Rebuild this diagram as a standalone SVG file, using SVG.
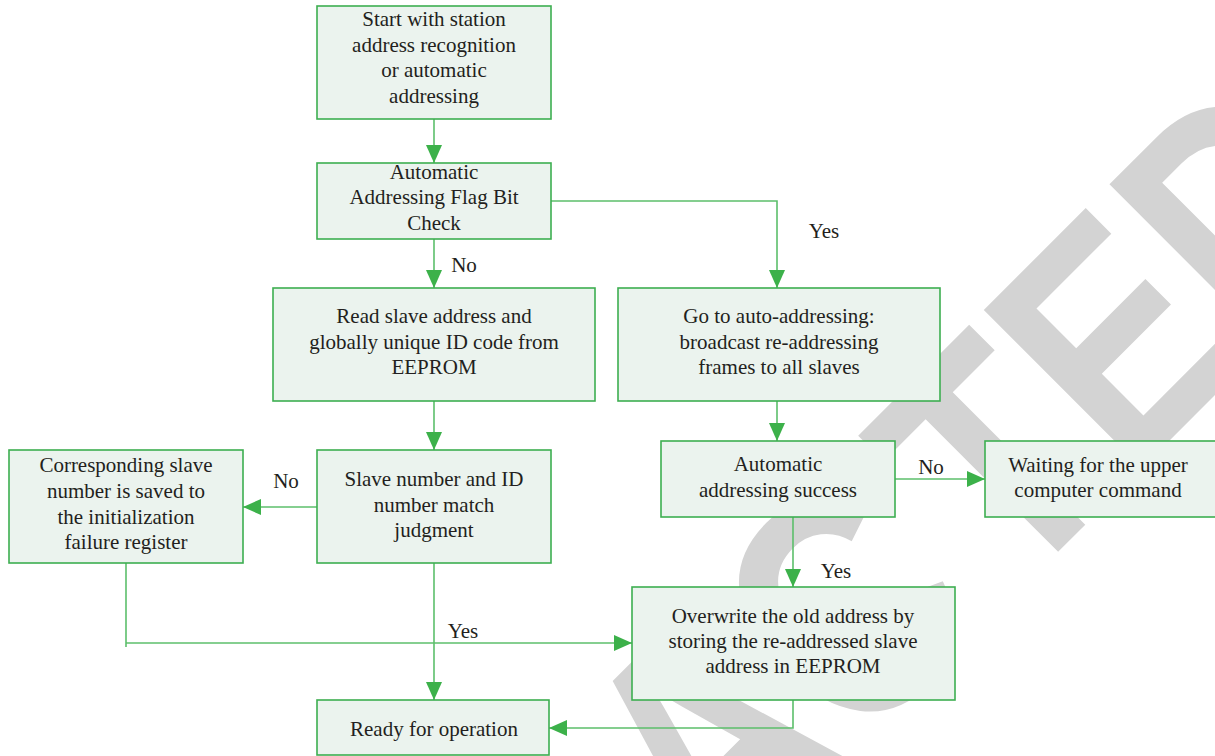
<svg xmlns="http://www.w3.org/2000/svg" width="1215" height="756" viewBox="0 0 1215 756">
<defs>
<style>
.box{fill:#ebf3ee;stroke:#3dae50;stroke-width:1.6}
.t{font-family:"Liberation Serif","Times New Roman",serif;font-size:21px;fill:#231f20;text-anchor:middle}
.c{fill:none;stroke:#5cbf6b;stroke-width:1.6}
.wm{font-family:"Liberation Sans",Arial,sans-serif;font-weight:bold;font-size:325px;fill:#d3d3d3}
</style>
<marker id="ah" markerUnits="userSpaceOnUse" markerWidth="18" markerHeight="16" refX="18" refY="8" orient="auto">
<path d="M0,0 L18,8 L0,16 z" fill="#3cb14a"/>
</marker>
</defs>
<rect x="0" y="0" width="1215" height="756" fill="#ffffff"/>
<text class="wm" transform="translate(229,1381) rotate(-45) scale(0.82,1)" x="-40" y="0">RETRAC<tspan dx="40">TED</tspan></text>
<g id="connectors">
<path class="c" d="M434,119 V163" marker-end="url(#ah)"/>
<path class="c" d="M551,201 H777 V288" marker-end="url(#ah)"/>
<path class="c" d="M434,239 V288" marker-end="url(#ah)"/>
<path class="c" d="M434,401 V450" marker-end="url(#ah)"/>
<path class="c" d="M317,507 H243" marker-end="url(#ah)"/>
<path class="c" d="M126,563 V647"/>
<path class="c" d="M126,643 H632" marker-end="url(#ah)"/>
<path class="c" d="M434,563 V700" marker-end="url(#ah)"/>
<path class="c" d="M777,401 V441" marker-end="url(#ah)"/>
<path class="c" d="M895,479 H985" marker-end="url(#ah)"/>
<path class="c" d="M793,517 V587" marker-end="url(#ah)"/>
<path class="c" d="M793,700 V728 H549" marker-end="url(#ah)"/>
<text class="t" x="464" y="272">No</text>
<text class="t" x="824" y="238">Yes</text>
<text class="t" x="286" y="488">No</text>
<text class="t" x="463" y="638">Yes</text>
<text class="t" x="931" y="474">No</text>
<text class="t" x="836" y="578">Yes</text>
</g>
<g id="start">
<rect class="box" x="317" y="6" width="234" height="113"/>
<text class="t" x="434" y="26">Start with station</text>
<text class="t" x="434" y="52">address recognition</text>
<text class="t" x="434" y="77">or automatic</text>
<text class="t" x="434" y="103">addressing</text>
</g>
<g id="flagcheck">
<rect class="box" x="317" y="163" width="234" height="76"/>
<text class="t" x="434" y="179">Automatic</text>
<text class="t" x="434" y="204">Addressing Flag Bit</text>
<text class="t" x="434" y="230">Check</text>
</g>
<g id="readslave">
<rect class="box" x="273" y="288" width="322" height="113"/>
<text class="t" x="434" y="323">Read slave address and</text>
<text class="t" x="434" y="349">globally unique ID code from</text>
<text class="t" x="434" y="374">EEPROM</text>
</g>
<g id="autoaddr">
<rect class="box" x="618" y="288" width="322" height="113"/>
<text class="t" x="779" y="323">Go to auto-addressing:</text>
<text class="t" x="779" y="349">broadcast re-addressing</text>
<text class="t" x="779" y="374">frames to all slaves</text>
</g>
<g id="match">
<rect class="box" x="317" y="450" width="234" height="113"/>
<text class="t" x="434" y="486">Slave number and ID</text>
<text class="t" x="434" y="512">number match</text>
<text class="t" x="434" y="537">judgment</text>
</g>
<g id="failure">
<rect class="box" x="9" y="450" width="234" height="113"/>
<text class="t" x="126" y="472">Corresponding slave</text>
<text class="t" x="126" y="498">number is saved to</text>
<text class="t" x="126" y="524">the initialization</text>
<text class="t" x="126" y="549">failure register</text>
</g>
<g id="ready">
<rect class="box" x="317" y="700" width="232" height="55"/>
<text class="t" x="434" y="736">Ready for operation</text>
</g>
<g id="success">
<rect class="box" x="661" y="441" width="234" height="76"/>
<text class="t" x="778" y="471">Automatic</text>
<text class="t" x="778" y="497">addressing success</text>
</g>
<g id="waiting">
<rect class="box" x="985" y="441" width="240" height="76"/>
<text class="t" x="1098" y="472">Waiting for the upper</text>
<text class="t" x="1098" y="497">computer command</text>
</g>
<g id="overwrite">
<rect class="box" x="632" y="587" width="323" height="113"/>
<text class="t" x="793" y="623">Overwrite the old address by</text>
<text class="t" x="793" y="648">storing the re-addressed slave</text>
<text class="t" x="793" y="673">address in EEPROM</text>
</g>
</svg>
